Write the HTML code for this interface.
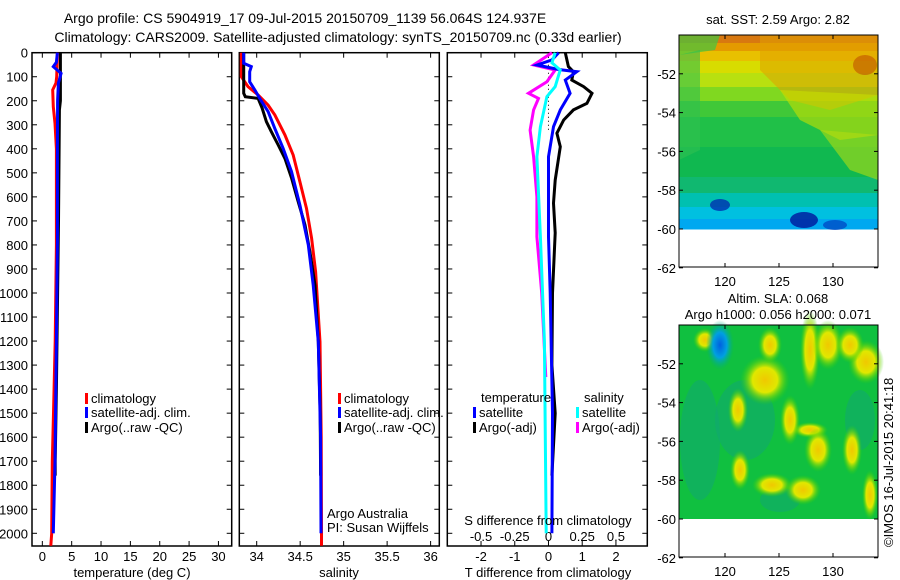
<!DOCTYPE html>
<html><head><meta charset="utf-8"><style>
html,body{margin:0;padding:0;background:#fff;}
svg{display:block;font-family:"Liberation Sans",sans-serif;}
text{font-size:13px;fill:#000;}
</style></head><body>
<svg id="c" width="900" height="580" viewBox="0 0 900 580">
<defs>
<radialGradient id="ylw"><stop offset="0" stop-color="#f0c800"/><stop offset="0.5" stop-color="#e0e800"/><stop offset="1" stop-color="#30d000" stop-opacity="0"/></radialGradient>
<radialGradient id="blu"><stop offset="0" stop-color="#0060e0"/><stop offset="0.5" stop-color="#00a0e0"/><stop offset="1" stop-color="#00b070" stop-opacity="0"/></radialGradient>
</defs>
<text x="305" y="23" text-anchor="middle" style="font-size:14px">Argo profile: CS 5904919_17 09-Jul-2015 20150709_1139 56.064S 124.937E</text>
<text x="338" y="42" text-anchor="middle" style="font-size:14px">Climatology: CARS2009. Satellite-adjusted climatology: synTS_20150709.nc (0.33d earlier)</text>
<g id="maps"></g>
<g id="plots"></g>
</svg>
<script>
// ---- data ----
const depthTicks=[0,100,200,300,400,500,600,700,800,900,1000,1100,1200,1300,1400,1500,1600,1700,1800,1900,2000];
const tempTicks=[0,5,10,15,20,25,30];
const salTicks=[34,34.5,35,35.5,36];
const dTTicks=[-2,-1,0,1,2];
const dSTicks=[-0.5,-0.25,0,0.25,0.5];
const dSTickLabels=["-0.5","-0.25","0","0.25","0.5"];
const tempClim=[[0,2.56],[100,2.45],[126,2.33],[155,1.77],[225,1.87],[294,2.16],[400,2.4],[800,2.4],[1200,2.2],[1500,1.9],[1700,1.7],[2000,1.6],[2052,1.45]];
const tempSat=[[0,2.56],[40,2.4],[58,1.87],[86,3.19],[126,2.73],[200,2.6],[400,2.56],[780,2.56],[1200,2.4],[1700,2.16],[2000,1.87]];
const tempArgo=[[0,3.07],[200,3.07],[238,2.9],[400,2.85],[700,2.75],[1000,2.6],[1400,2.4],[1700,2.2],[1760,2.2]];
const salClim=[[0,33.823],[100,33.823],[141,33.9],[176,34.016],[218,34.131],[259,34.208],[342,34.324],[426,34.42],[537,34.497],[648,34.573],[772,34.631],[911,34.677],[1203,34.728],[1600,34.742],[2000,34.745],[2052,34.745]];
const salSat=[[0,33.851],[44,33.851],[58,33.938],[79,33.92],[121,33.92],[155,33.978],[190,34.035],[245,34.131],[315,34.208],[398,34.304],[495,34.4],[634,34.497],[800,34.593],[967,34.65],[1203,34.708],[1600,34.735],[2000,34.739]];
const salArgo=[[0,33.851],[169,33.851],[183,33.869],[190,34.016],[230,34.062],[287,34.112],[329,34.169],[384,34.247],[440,34.324],[521,34.4],[620,34.477],[717,34.555],[828,34.612],[967,34.67],[1203,34.708],[1500,34.73],[1760,34.735]];
const dTSat=[[0,0.3],[30,0.1],[51,-0.34],[70,0.3],[79,0.84],[114,0.5],[169,0.64],[238,0.35],[308,0.15],[433,0.0],[766,0.0],[1000,0.05],[1500,0.12],[2000,0.1]];
const dTArgo=[[0,0.5],[58,0.59],[79,0.74],[114,0.69],[141,1.04],[169,1.29],[211,1.14],[238,0.74],[280,0.45],[335,0.25],[391,0.35],[530,0.2],[626,0.15],[750,0.2],[1000,0.12],[1300,0.1],[1500,0.2],[1760,0.1]];
const dSSat=[[0,0.05],[42,0.025],[72,0.087],[141,0.05],[183,-0.012],[308,-0.06],[433,-0.086],[766,-0.06],[1200,-0.03],[2000,-0.017]];
const dSArgo=[[0,0.025],[51,-0.11],[72,0.05],[121,-0.012],[169,-0.148],[190,-0.074],[238,-0.11],[322,-0.136],[433,-0.11],[600,-0.086],[766,-0.086],[1000,-0.05],[1350,-0.02]];
const latTicks=[-52,-54,-56,-58,-60,-62];
const lonTicks=[120,125,130];

const NS="http://www.w3.org/2000/svg";
const plots=document.getElementById('plots');
function el(tag,attrs,parent){const e=document.createElementNS(NS,tag);for(const k in attrs)e.setAttribute(k,attrs[k]);(parent||plots).appendChild(e);return e;}
const Y0=52.7,YS=0.2403,YB=546;
function yD(d){return Y0+d*YS;}

function panel(name,x0,x1,vmin,vmax){
  const g=el('g',{});
  
  
  const r=el('rect',{x:x0,y:Y0,width:x1-x0,height:YB-Y0,fill:'none',stroke:'#000','stroke-width':1.5},g);
  
  
  depthTicks.forEach(d=>{
    el('line',{x1:x0,x2:x0+5,y1:yD(d),y2:yD(d),stroke:'#000'},g);
    el('line',{x1:x1-5,x2:x1,y1:yD(d),y2:yD(d),stroke:'#000'},g);
  });
  return {g,x:v=>x0+(v-vmin)/(vmax-vmin)*(x1-x0)};
}
function prof(p,data,xf,color,name,w){
  const pts=[];
  data.forEach(q=>{pts.push(xf(q[1]).toFixed(1)+','+yD(q[0]).toFixed(1));});
  const l=el('polyline',{points:pts.join(' '),fill:'none',stroke:color,'stroke-width':w||3},p.g);
  
  
}
depthTicks.forEach(d=>{const t=el('text',{x:28,y:yD(d)+5,'text-anchor':'end'});t.textContent=d;

});

const p1=panel('temperature-panel',32,231.7,-1.76,32.26);
tempTicks.forEach(v=>{const X=p1.x(v);el('line',{x1:X,x2:X,y1:YB,y2:YB-5,stroke:'#000'},p1.g);el('line',{x1:X,x2:X,y1:Y0,y2:Y0+5,stroke:'#000'},p1.g);
const t=el('text',{x:X,y:561,'text-anchor':'middle'},p1.g);t.textContent=v;

});
prof(p1,tempClim,p1.x,'#f00','temp-climatology-line');
prof(p1,tempArgo,p1.x,'#000','temp-argo-line');
prof(p1,tempSat,p1.x,'#00f','temp-satellite-line');
const p2=panel('salinity-panel',239.3,439.3,33.8,36.1);
salTicks.forEach(v=>{const X=p2.x(v);el('line',{x1:X,x2:X,y1:YB,y2:YB-5,stroke:'#000'},p2.g);el('line',{x1:X,x2:X,y1:Y0,y2:Y0+5,stroke:'#000'},p2.g);
const t=el('text',{x:X,y:561,'text-anchor':'middle'},p2.g);t.textContent=v;

});
prof(p2,salClim,p2.x,'#f00','sal-climatology-line');
prof(p2,salArgo,p2.x,'#000','sal-argo-line');
prof(p2,salSat,p2.x,'#00f','sal-satellite-line');
const p3=panel('difference-panel',447.3,647.3,-3.0,2.93);
const xS=v=>p3.x(v*4);
dTTicks.forEach(v=>{const X=p3.x(v);el('line',{x1:X,x2:X,y1:YB,y2:YB-5,stroke:'#000'},p3.g);
const t=el('text',{x:X,y:561,'text-anchor':'middle'},p3.g);t.textContent=v;

});
dSTicks.forEach((v,i)=>{const X=xS(v);el('line',{x1:X,x2:X,y1:Y0,y2:Y0+5,stroke:'#000'},p3.g);
const t=el('text',{x:X,y:541,'text-anchor':'middle'},p3.g);t.textContent=dSTickLabels[i];

});
el('line',{x1:p3.x(0),x2:p3.x(0),y1:yD(0),y2:yD(330),stroke:'#000','stroke-dasharray':'1,3'},p3.g);
prof(p3,dSArgo,xS,'#f0f','dS-argo-line');
prof(p3,dTArgo,p3.x,'#000','dT-argo-line');
prof(p3,dTSat,p3.x,'#00f','dT-satellite-line');
prof(p3,dSSat,xS,'#0ff','dS-satellite-line');

function txt(x,y,s,name,anchor,extra){const t=el('text',Object.assign({x:x,y:y,'text-anchor':anchor||'start'},extra||{}));t.textContent=s;

return t;}
function legend(x,y,color,label,name){el('rect',{x:x,y:y-10,width:3,height:11,fill:color});txt(x+6,y,label,name);}
txt(132,577,'temperature (deg C)','temperature-axis-title','middle');
txt(339,577,'salinity','salinity-axis-title','middle');
txt(548,577,'T difference from climatology','dT-axis-title','middle');
txt(548,525,'S difference from climatology','dS-axis-title','middle');
legend(85,403,'#f00','climatology','legend-climatology-1');
legend(85,417,'#00f','satellite-adj. clim.','legend-satellite-1');
legend(85,432,'#000','Argo(..raw -QC)','legend-argo-1');
legend(338,403,'#f00','climatology','legend-climatology-2');
legend(338,417,'#00f','satellite-adj. clim.','legend-satellite-2');
legend(338,432,'#000','Argo(..raw -QC)','legend-argo-2');
txt(481,402,'temperature','legend-temperature-heading');
txt(584,402,'salinity','legend-salinity-heading');
legend(473,417,'#00f','satellite','legend-t-satellite');
legend(473,432,'#000','Argo(-adj)','legend-t-argo');
legend(576,417,'#0ff','satellite','legend-s-satellite');
legend(576,432,'#f0f','Argo(-adj)','legend-s-argo');
txt(327,518,'Argo Australia','credit-argo-australia');
txt(327,532,'PI: Susan Wijffels','credit-pi');

const maps=document.getElementById('maps');
function map(name,y0,title1,title2,kind){
  const x0=679,x1=878,y1=y0+232;
  const g=el('g',{},maps);
  
  
  const lat=v=>y0+(-50-v)*19.4, lon=v=>x0+(v-115.74)*10.8;
  const hy=lat(-60);
  if(kind==='sst'){
    const bands=[[35,8,'#d87810'],[43,8,'#e49a00'],[51,10,'#e8c000'],[61,12,'#d8dc00'],[73,14,'#b8e010'],[87,14,'#80d820'],[101,16,'#40c838'],[117,30,'#20c048'],[147,30,'#10b850'],[177,16,'#10b870'],[193,14,'#00c0b0'],[207,12,'#00c0e0'],[219,10,'#00a8f0']];
    bands.forEach(b=>el('rect',{x:x0,y:b[0],width:x1-x0,height:b[1]+0.5,fill:b[2]},g));
    // right side warmer (diagonal structure)
    el('polygon',{points:'760,35 878,35 878,95 830,110 790,100 760,70',fill:'#e0a000',opacity:0.55},g);
    el('polygon',{points:'780,90 878,95 878,135 840,140 800,120',fill:'#c8e000',opacity:0.6},g);
    el('polygon',{points:'820,130 878,135 878,180 850,170',fill:'#b0dc10',opacity:0.6},g);
    el('polygon',{points:'679,35 720,35 715,50 679,55',fill:'#40c840',opacity:0.7},g);
    el('polygon',{points:'679,55 700,50 700,150 679,160',fill:'#30c050',opacity:0.6},g);
    el('ellipse',{cx:865,cy:65,rx:12,ry:10,fill:'#c05000',opacity:0.6},g);
    el('ellipse',{cx:720,cy:205,rx:10,ry:6,fill:'#0030b0',opacity:0.8},g);
    el('ellipse',{cx:804,cy:220,rx:14,ry:8,fill:'#0020a0',opacity:0.85},g);
    el('ellipse',{cx:835,cy:225,rx:12,ry:5,fill:'#0040c0',opacity:0.7},g);
  } else {
    el('rect',{x:x0,y:y0,width:x1-x0,height:hy-y0,fill:'#10c040'},g);
    [[700,440,20,60,'#10a870'],[745,420,30,40,'#10a870'],[860,420,15,30,'#10a870'],[780,500,20,12,'#10a870']].forEach(b=>el('ellipse',{cx:b[0],cy:b[1],rx:b[2],ry:b[3],fill:b[4],opacity:0.6},g));
    [[810,350,10,40],[765,380,25,25],[828,345,15,25],[866,362,18,22],[738,410,10,22],[810,430,18,8],[818,450,14,22],[852,450,10,25],[772,485,20,12],[803,490,18,15],[740,470,10,20],[705,340,12,12],[770,345,12,18],[850,345,14,18],[790,420,10,25],[870,495,8,25]].forEach(b=>el('ellipse',{cx:b[0],cy:b[1],rx:b[2],ry:b[3],fill:'url(#ylw)'},g));
    el('ellipse',{cx:720,cy:345,rx:14,ry:25,fill:'url(#blu)'},g);
  }
  el('rect',{x:x0,y:y0,width:x1-x0,height:y1-y0,fill:'none',stroke:'#000','stroke-width':1},g);
  latTicks.forEach(v=>{const Y=lat(v);el('line',{x1:x0,x2:x0+4,y1:Y,y2:Y,stroke:'#000'},g);el('line',{x1:x1-4,x2:x1,y1:Y,y2:Y,stroke:'#000'},g);
    const t=el('text',{x:x0-3,y:Y+5,'text-anchor':'end'},g);t.textContent=v;
    
    });
  lonTicks.forEach(v=>{const X=lon(v);el('line',{x1:X,x2:X,y1:y1,y2:y1-4,stroke:'#000'},g);el('line',{x1:X,x2:X,y1:y0,y2:y0+4,stroke:'#000'},g);
    const t=el('text',{x:X,y:y1+19,'text-anchor':'middle'},g);t.textContent=v;
    
    });
  if(title2){txt(778,y0-22,title1,name+'-title-1','middle');txt(778,y0-6,title2,name+'-title-2','middle');}
  else txt(778,y0-11,title1,name+'-title','middle');
}
map('sst-map',35,'sat. SST: 2.59 Argo: 2.82','', 'sst');
map('sla-map',325,'Altim. SLA: 0.068','Argo h1000: 0.056 h2000: 0.071','sla');
txt(0,0,'©IMOS 16-Jul-2015 20:41:18','imos-credit','start',{transform:'translate(893,547) rotate(-90)'});
</script>
</body></html>
